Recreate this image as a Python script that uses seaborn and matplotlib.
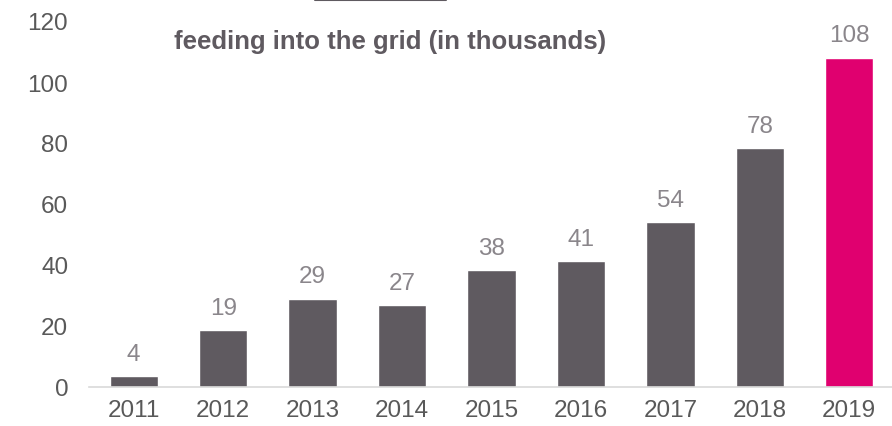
import matplotlib
matplotlib.use("Agg")
import matplotlib.pyplot as plt
import seaborn as sns
import pandas as pd
from matplotlib.lines import Line2D

years = ["2011", "2012", "2013", "2014", "2015", "2016", "2017", "2018", "2019"]
values = [3.5, 18.6, 29.0, 26.8, 38.2, 41.3, 54.2, 78.3, 108.0]
labels = ["4", "19", "29", "27", "38", "41", "54", "78", "108"]
bar_colors = ["#5f5a60"] * 8 + ["#e0006f"]
title = "feeding into the grid (in thousands)"
yticks = [0, 20, 40, 60, 80, 100, 120]

sns.set_theme(style="white")
plt.rcParams["font.family"] = ["Liberation Sans", "DejaVu Sans"]

df = pd.DataFrame({"year": years, "value": values})

fig = plt.figure(figsize=(8.92, 4.27), dpi=100)
ax = fig.add_axes([89 / 892, 39 / 427, (894 - 89) / 892, (388 - 22) / 427])

sns.barplot(data=df, x="year", y="value", hue="year", palette=bar_colors,
            legend=False, width=0.54, ax=ax, saturation=1)

for cont, lab in zip(ax.containers, labels):
    ax.bar_label(cont, labels=[lab], padding=8, fontsize=17.5, color="#8a868b")

ax.set_ylim(0, 120)
ax.set_xlim(-0.5, 8.5)
ax.set_yticks(yticks)
ax.set_xlabel("")
ax.set_ylabel("")
ax.tick_params(axis="both", length=0, labelsize=17.5, labelcolor="#595959")
ax.tick_params(axis="y", pad=15)
ax.tick_params(axis="x", pad=9)
for s in ["top", "right", "left"]:
    ax.spines[s].set_visible(False)
ax.spines["bottom"].set_color("#d9d9d9")
ax.spines["bottom"].set_linewidth(1.2)
ax.patch.set_alpha(0)

fig.text(390 / 892, 1 - 42 / 427, title, ha="center", va="center",
         fontsize=18.5, fontweight="bold", color="#5f5a60")

fig.add_artist(Line2D([315 / 892, 446 / 892], [1 - 1 / 427, 1 - 1 / 427],
                      transform=fig.transFigure, color="#5f5a60", linewidth=1.5))

fig.savefig("out.png", dpi=100)
